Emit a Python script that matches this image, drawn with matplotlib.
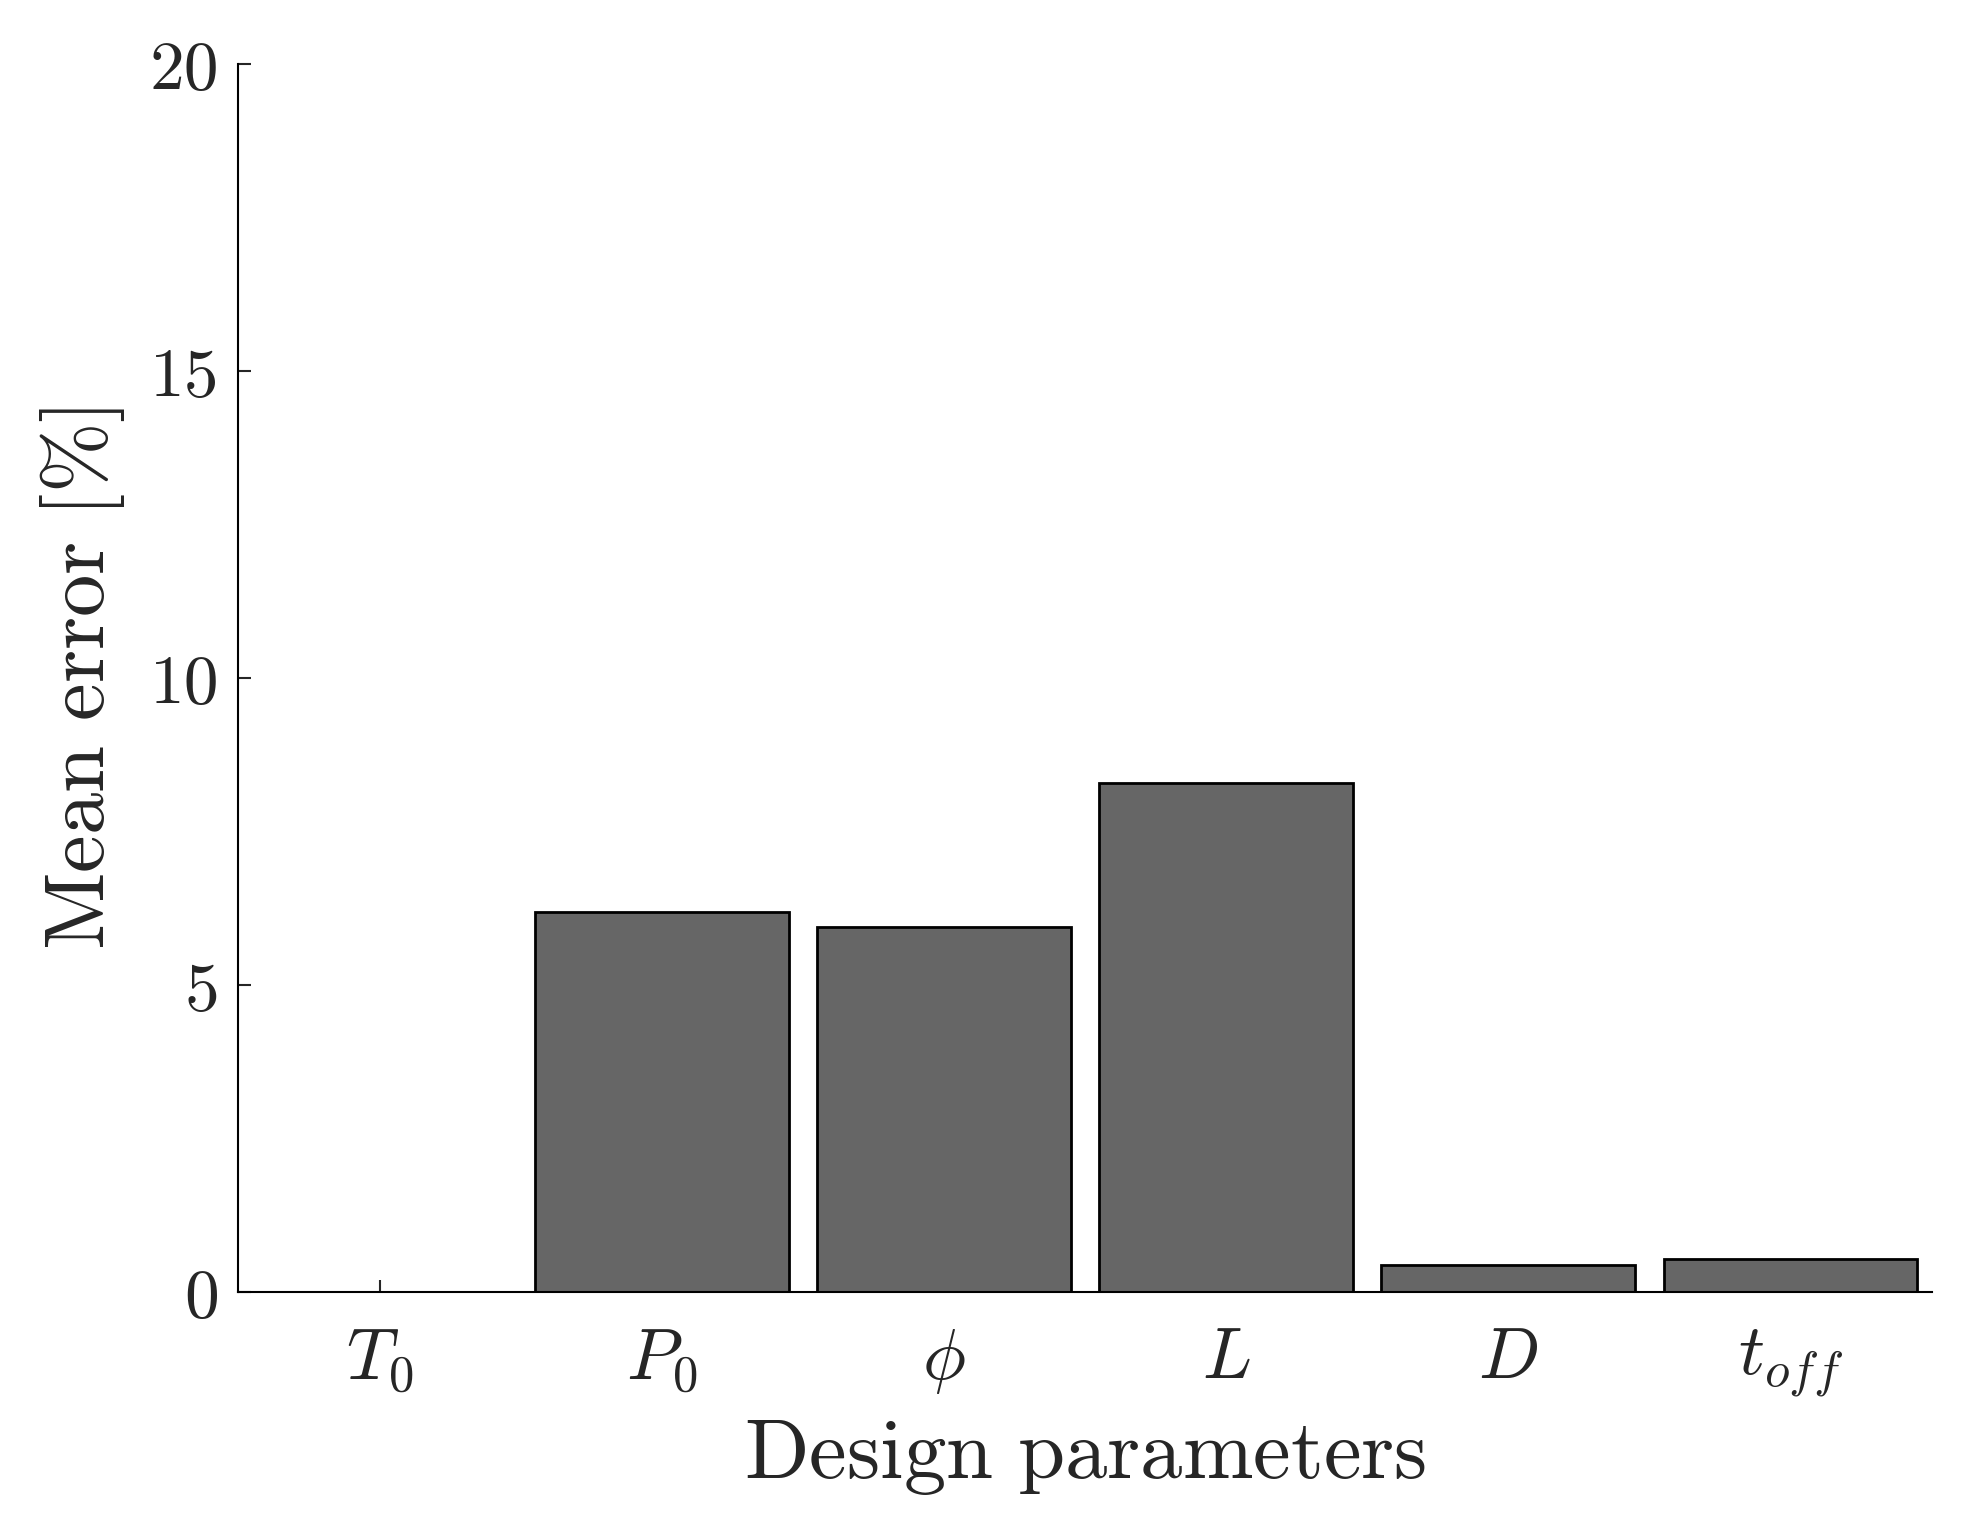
import matplotlib
matplotlib.use("Agg")
import matplotlib.pyplot as plt

params = [r"$T_0$", r"$P_0$", r"$\phi$", r"$L$", r"$D$", r"$t_{off}$"]
mean_error = [0.0, 6.2, 5.95, 8.3, 0.45, 0.55]
yticks = [0, 5, 10, 15, 20]

plt.rcParams["mathtext.fontset"] = "cm"
plt.rcParams["font.family"] = "serif"
plt.rcParams["font.serif"] = ["cmr10"]
plt.rcParams["axes.formatter.use_mathtext"] = True

fig = plt.figure(figsize=(19.71, 15.35), dpi=100)
ax = fig.add_axes([0.121, 0.158, 0.859, 0.800])

x = list(range(1, len(params) + 1))
ax.bar(x, mean_error, width=0.9, color="#666666", edgecolor="black", linewidth=2.0)
ax.set_axisbelow(True)

ax.set_xlim(0.5, 6.5)
ax.set_ylim(0, 20)
ax.set_xticks(x)
ax.set_xticklabels(params, fontsize=52)
ax.set_yticks(yticks)
ax.set_yticklabels([str(t) for t in yticks], fontsize=50)

for s in ["top", "right"]:
    ax.spines[s].set_visible(False)
for s in ["left", "bottom"]:
    ax.spines[s].set_linewidth(1.5)
ax.tick_params(direction="in", length=9, width=1.5, pad=14, colors="#262626")
ax.tick_params(axis="x", pad=25)

ax.set_xlabel(r"$\mathrm{Design\ parameters}$", fontsize=61, color="#262626", labelpad=14)
ax.set_ylabel(r"$\mathrm{Mean\ error\ [\%]}$", fontsize=61, color="#262626", labelpad=16)

fig.savefig("out.png", dpi=100, facecolor="white")
